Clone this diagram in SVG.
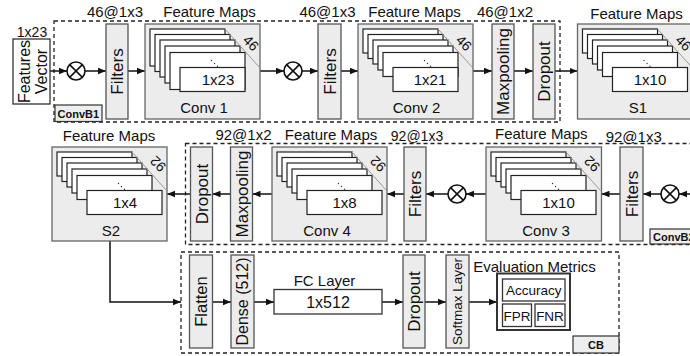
<svg xmlns="http://www.w3.org/2000/svg" width="690" height="356" viewBox="0 0 690 356">
<style>
text{font-family:"Liberation Sans",Arial,sans-serif;fill:#111}
.lbl{font-size:15px;text-anchor:middle}
.sm{font-size:14px;text-anchor:middle}
.rot{font-size:17px;text-anchor:middle}
.cnt{font-size:14px;text-anchor:middle;dominant-baseline:central}
.gbox{fill:#ececec;stroke:#555;stroke-width:1.3}
.fbox{fill:#ececec;stroke:#666;stroke-width:1.3}
.wbox{fill:#fff;stroke:#333;stroke-width:1.3}
.map{fill:#fff;stroke:#222;stroke-width:1.2}
.diag{stroke:#999;stroke-width:1}
.dash{fill:none;stroke:#222;stroke-width:1.3;stroke-dasharray:4 3}
.wire{fill:none;stroke:#111;stroke-width:1.5;marker-end:url(#ah)}
.op{fill:#fff;stroke:#111;stroke-width:1.6}
.tag{fill:#eeeeee;stroke:#333;stroke-width:1.2}
.tagt{font-size:11px;font-weight:bold}
</style>
<defs>
<marker id="ah" viewBox="0 0 10 10" refX="10" refY="5" markerWidth="8" markerHeight="8" markerUnits="userSpaceOnUse" orient="auto"><path d="M0,1 L10,5 L0,9 z" fill="#111"/></marker>
<g id="dots" fill="#333"><circle cx="66.5" cy="36.5" r="0.7"/><circle cx="69.5" cy="39.5" r="0.7"/><circle cx="72.5" cy="42.3" r="0.7"/></g>
<g id="stk37">
<rect class="map" x="5" y="5" width="75" height="37"/>
<rect class="map" x="10" y="10.5" width="75" height="37"/>
<rect class="map" x="15" y="16" width="75" height="37"/>
<rect class="map" x="20" y="22" width="75" height="37"/>
<rect class="map" x="25" y="28.5" width="75" height="37"/>
<line class="diag" x1="80" y1="5" x2="114.5" y2="43.5"/>
<use href="#dots"/>
<rect class="map" x="35" y="43.5" width="65" height="24"/>
</g>
<g id="stk24a">
<rect class="map" x="5" y="5" width="75" height="24"/>
<rect class="map" x="10" y="10.5" width="75" height="24"/>
<rect class="map" x="15" y="16" width="75" height="24"/>
<rect class="map" x="20" y="22" width="75" height="24"/>
<rect class="map" x="25" y="28.5" width="75" height="24"/>
<line class="diag" x1="80" y1="5" x2="114.5" y2="43.5"/>
<use href="#dots"/>
<rect class="map" x="35" y="43.5" width="65" height="24"/>
</g>
<g id="stk24b">
<rect class="map" x="5" y="5" width="75" height="24"/>
<rect class="map" x="10" y="10.5" width="75" height="24"/>
<rect class="map" x="15" y="16" width="75" height="24"/>
<rect class="map" x="20" y="22" width="75" height="24"/>
<rect class="map" x="25" y="28.5" width="75" height="24"/>
<line class="diag" x1="80" y1="5" x2="114.5" y2="43.5"/>
<use href="#dots"/>
<rect class="map" x="35" y="43.5" width="75" height="24"/>
</g>
<g id="otimes"><circle class="op" cx="0" cy="0" r="9"/><path d="M-6.4,-6.4 L6.4,6.4 M-6.4,6.4 L6.4,-6.4" stroke="#111" stroke-width="1.5"/></g>
</defs>

<!-- block frames -->
<g id="convB1">
<rect class="dash" x="54" y="21" width="506" height="101"/>
<rect class="tag" x="55" y="105" width="47" height="16.5"/>
<text class="tagt" x="57.5" y="117.5">ConvB1</text>
</g>
<g id="convB2">
<rect class="dash" x="185.5" y="143.5" width="520" height="101"/>
<rect class="tag" x="650" y="229" width="50" height="15"/>
<text class="tagt" x="653" y="240.5">ConvB2</text>
</g>
<g id="cb">
<rect class="dash" x="181" y="252" width="438" height="101"/>
<rect class="tag" x="573" y="336" width="46" height="17"/>
<text class="tagt" x="596" y="348.5" text-anchor="middle">CB</text>
</g>

<!-- connectors -->
<g id="connectors">
<path class="wire" d="M50,71 H67"/>
<path class="wire" d="M85,71 H106"/>
<path class="wire" d="M128,71 H145"/>
<path class="wire" d="M260,71 H284"/>
<path class="wire" d="M302,71 H318"/>
<path class="wire" d="M341,71 H358"/>
<path class="wire" d="M473,71 H492"/>
<path class="wire" d="M514,71 H533"/>
<path class="wire" d="M555,71 H577.5"/>
<path class="wire" d="M694,194 H679"/>
<path class="wire" d="M661,194 H643"/>
<path class="wire" d="M620,194 H601.5"/>
<path class="wire" d="M486,194 H466"/>
<path class="wire" d="M448,194 H426"/>
<path class="wire" d="M404,194 H387"/>
<path class="wire" d="M272,194 H252.5"/>
<path class="wire" d="M230.5,194 H212.5"/>
<path class="wire" d="M190.5,194 H167"/>
<path class="wire" d="M110,241 V302 H181"/>
<path class="wire" d="M212.5,302 H231"/>
<path class="wire" d="M254,302 H274"/>
<path class="wire" d="M382,302 H403"/>
<path class="wire" d="M425,302 H446"/>
<path class="wire" d="M469,302 H497"/>
</g>

<!-- row 1 -->
<g id="features-vector">
<text class="sm" x="32" y="37">1x23</text>
<rect class="wbox" x="13" y="39" width="37" height="65"/>
<text class="rot" style="font-size:16px" transform="translate(24.5,71.5) rotate(-90)" y="5.7">Features</text>
<text class="rot" style="font-size:16px" transform="translate(41.3,71.5) rotate(-90)" y="5.7">Vector</text>
</g>
<g id="mul1"><use href="#otimes" x="76" y="71"/></g>
<g id="filters1">
<text class="lbl" x="115" y="16.5">46@1x3</text>
<rect class="gbox" x="106" y="24" width="22" height="95"/>
<text class="rot" transform="translate(117,71.5) rotate(-90)" y="6">Filters</text>
</g>
<g id="conv1">
<text class="lbl" x="209.5" y="16.5">Feature Maps</text>
<rect class="fbox" x="145" y="24" width="115" height="95"/>
<use href="#stk37" x="145" y="24"/>
<text class="lbl" x="218" y="85">1x23</text>
<text class="cnt" transform="translate(251,43) rotate(45)">46</text>
<text class="lbl" x="204" y="113">Conv 1</text>
</g>
<g id="mul2"><use href="#otimes" x="293" y="71"/></g>
<g id="filters2">
<text class="lbl" x="327.5" y="16.5">46@1x3</text>
<rect class="gbox" x="318" y="24" width="23" height="95"/>
<text class="rot" transform="translate(329.5,71.5) rotate(-90)" y="6">Filters</text>
</g>
<g id="conv2">
<text class="lbl" x="414.5" y="16.5">Feature Maps</text>
<rect class="fbox" x="358" y="24" width="115" height="95"/>
<use href="#stk24a" x="358" y="24"/>
<text class="lbl" x="430" y="85">1x21</text>
<text class="cnt" transform="translate(464,43) rotate(45)">46</text>
<text class="lbl" x="416.5" y="113">Conv 2</text>
</g>
<g id="maxpool1">
<text class="lbl" x="505" y="16.5">46@1x2</text>
<rect class="gbox" x="492" y="24" width="22" height="95"/>
<text class="rot" transform="translate(503,71.5) rotate(-90)" y="6">Maxpooling</text>
</g>
<g id="dropout1">
<rect class="gbox" x="533" y="24" width="22" height="95"/>
<text class="rot" transform="translate(544,71.5) rotate(-90)" y="6">Dropout</text>
</g>
<g id="s1">
<text class="lbl" x="636.5" y="19">Feature Maps</text>
<rect class="fbox" x="577.5" y="24" width="115" height="95"/>
<use href="#stk24b" x="577.5" y="24"/>
<text class="lbl" x="650" y="85">1x10</text>
<text class="cnt" transform="translate(683.5,43) rotate(45)">46</text>
<text class="lbl" x="638" y="113">S1</text>
</g>

<!-- row 2 -->
<g id="mul3"><use href="#otimes" x="670" y="194"/></g>
<g id="filters3">
<text class="lbl" x="633.7" y="141.5">92@1x3</text>
<rect class="gbox" x="620" y="147" width="23" height="94"/>
<text class="rot" transform="translate(631.5,194) rotate(-90)" y="6">Filters</text>
</g>
<g id="conv3">
<text class="lbl" x="541.3" y="139">Feature Maps</text>
<rect class="fbox" x="486" y="147" width="115.5" height="94"/>
<use href="#stk24b" x="486" y="147"/>
<text class="lbl" x="558.5" y="207.5">1x10</text>
<text class="cnt" transform="translate(592,164) rotate(225)">92</text>
<text class="lbl" x="546" y="236">Conv 3</text>
</g>
<g id="mul4"><use href="#otimes" x="457" y="194"/></g>
<g id="filters4">
<text class="sm" x="417" y="140.5">92@1x3</text>
<rect class="gbox" x="404" y="147" width="22" height="94"/>
<text class="rot" transform="translate(415,194) rotate(-90)" y="6">Filters</text>
</g>
<g id="conv4">
<text class="lbl" x="331" y="139.5">Feature Maps</text>
<rect class="fbox" x="272" y="147" width="115" height="94"/>
<use href="#stk24b" x="272" y="147"/>
<text class="lbl" x="344.5" y="207.5">1x8</text>
<text class="cnt" transform="translate(378,164) rotate(225)">92</text>
<text class="lbl" x="327" y="236">Conv 4</text>
</g>
<g id="maxpool2">
<text class="lbl" x="243.5" y="140">92@1x2</text>
<rect class="gbox" x="230.5" y="147" width="22" height="94"/>
<text class="rot" transform="translate(241.5,194) rotate(-90)" y="6">Maxpooling</text>
</g>
<g id="dropout2">
<rect class="gbox" x="190.5" y="147" width="22" height="94"/>
<text class="rot" transform="translate(201.5,194) rotate(-90)" y="6">Dropout</text>
</g>
<g id="s2">
<text class="lbl" x="109" y="141">Feature Maps</text>
<rect class="fbox" x="52" y="147" width="115" height="94"/>
<use href="#stk24b" x="52" y="147"/>
<text class="lbl" x="125" y="207.5">1x4</text>
<text class="cnt" transform="translate(158,164) rotate(225)">92</text>
<text class="lbl" x="111" y="236">S2</text>
</g>

<!-- row 3 -->
<g id="flatten">
<rect class="gbox" x="189.5" y="255" width="23" height="93"/>
<text class="rot" style="font-size:16.5px" transform="translate(201,301.5) rotate(-90)" y="6">Flatten</text>
</g>
<g id="dense">
<rect class="gbox" x="231" y="255" width="23" height="93"/>
<text class="rot" style="font-size:16px" transform="translate(242.5,301.5) rotate(-90)" y="5.7">Dense (512)</text>
</g>
<g id="fc-layer">
<text class="lbl" x="324.5" y="286">FC Layer</text>
<rect class="wbox" x="274" y="289.5" width="108" height="24.5"/>
<text class="lbl" style="font-size:16px" x="328" y="307.5">1x512</text>
</g>
<g id="dropout3">
<rect class="gbox" x="403" y="255" width="22" height="93"/>
<text class="rot" transform="translate(414,301.5) rotate(-90)" y="6">Dropout</text>
</g>
<g id="softmax">
<rect class="gbox" x="446" y="255" width="23" height="93"/>
<text class="rot" style="font-size:13.5px" transform="translate(457.5,301.5) rotate(-90)" y="4.8">Softmax Layer</text>
</g>
<g id="metrics">
<text class="lbl" x="534.5" y="271.5">Evaluation Metrics</text>
<rect x="497" y="273.5" width="73" height="56.5" fill="#fff" stroke="#333" stroke-width="2"/>
<rect class="wbox" x="502.5" y="279" width="62.5" height="22" stroke-width="1.1"/>
<text class="lbl" style="font-size:13.5px" x="533.7" y="295">Accuracy</text>
<rect class="wbox" x="502.5" y="304" width="29" height="22.5" stroke-width="1.1"/>
<text class="lbl" style="font-size:13.5px" x="517" y="320.5">FPR</text>
<rect class="wbox" x="535" y="304" width="30" height="22.5" stroke-width="1.1"/>
<text class="lbl" style="font-size:13.5px" x="550" y="320.5">FNR</text>
</g>
</svg>
